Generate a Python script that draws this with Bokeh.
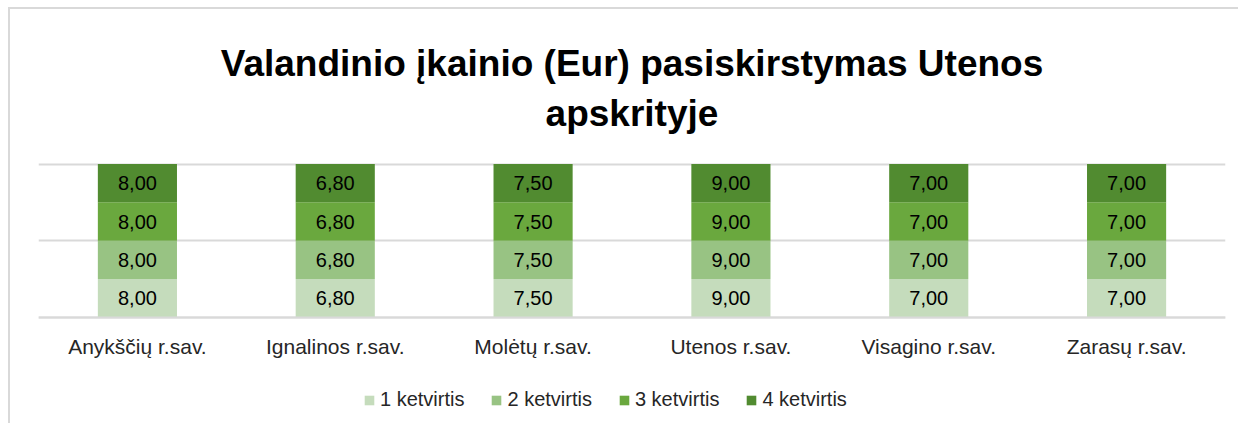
from bokeh.plotting import figure
from bokeh.models import (FactorRange, Range1d, FixedTicker, ColumnDataSource, Legend, LegendItem, Title)
from bokeh.core.properties import value
from bokeh.embed import file_html
from bokeh.resources import INLINE

categories = ["Anykščių r.sav.", "Ignalinos r.sav.", "Molėtų r.sav.", "Utenos r.sav.", "Visagino r.sav.", "Zarasų r.sav."]
series_names = ["1 ketvirtis", "2 ketvirtis", "3 ketvirtis", "4 ketvirtis"]
q1 = [8.00, 6.80, 7.50, 9.00, 7.00, 7.00]
q2 = [8.00, 6.80, 7.50, 9.00, 7.00, 7.00]
q3 = [8.00, 6.80, 7.50, 9.00, 7.00, 7.00]
q4 = [8.00, 6.80, 7.50, 9.00, 7.00, 7.00]
colors = ["#c5dcbc", "#98c383", "#6aa83e", "#518b30"]
title_text = "Valandinio įkainio (Eur) pasiskirstymas Utenos\napskrityje"

FONT = "Liberation Sans"

series = [q1, q2, q3, q4]
totals = [sum(s[i] for s in series) for i in range(len(categories))]
data = {"cat": categories}
keys = []
for k, s in enumerate(series):
    key = f"s{k}"
    keys.append(key)
    data[key] = [v / t for v, t in zip(s, totals)]
src = ColumnDataSource(data)

# the frame extends below the bars so the category labels and legend sit inside it
BAR_PX = 153.0          # pixel height of the 0..1 stacked span
BELOW_PX = 106.0        # room under the baseline for labels and legend
TOP_PAD = 0.01
y_start = -BELOW_PX / BAR_PX
frame_h = int(round((1 + TOP_PAD - y_start) * BAR_PX))

p = figure(x_range=FactorRange(*categories, range_padding=0), y_range=Range1d(y_start, 1 + TOP_PAD),
           frame_width=1187, frame_height=frame_h, output_backend="svg", toolbar_location=None,
           min_border_left=28, min_border_right=13, min_border_top=153, min_border_bottom=0)
p.outline_line_color = None
p.styles = {"border-left": "2px solid #d9d9d9", "border-top": "2px solid #d9d9d9",
            "margin-left": "8px", "margin-top": "7px"}

renderers = p.vbar_stack(keys, x="cat", width=0.4, color=colors, source=src, line_color=None)

# labels
lx, ly, lt = [], [], []
for i, c in enumerate(categories):
    cum = 0.0
    for k, s in enumerate(series):
        frac = s[i] / totals[i]
        lx.append(c)
        ly.append(cum + frac / 2)
        lt.append(f"{s[i]:.2f}".replace(".", ","))
        cum += frac
p.text(x=lx, y=ly, text=lt, text_align="center", text_baseline="middle",
       text_font=value(FONT), text_font_size="20px", text_color="#000000")

p.yaxis.visible = False
p.ygrid.ticker = FixedTicker(ticks=[0, 0.5, 1])
p.ygrid.grid_line_color = "#d9d9d9"
p.ygrid.grid_line_width = 2
p.xgrid.grid_line_color = None
p.xaxis.fixed_location = 0
p.xaxis.axis_line_color = "#d9d9d9"
p.xaxis.axis_line_width = 2
p.xaxis.major_tick_line_color = None
p.xaxis.minor_tick_line_color = None
p.xaxis.major_label_text_font = FONT
p.xaxis.major_label_text_font_size = "21px"
p.xaxis.major_label_text_color = "#262626"
p.xaxis.major_label_standoff = 12

legend = Legend(items=[LegendItem(label=n, renderers=[r]) for n, r in zip(series_names, renderers)],
                orientation="horizontal", location=(325, 12), border_line_color=None,
                background_fill_alpha=0,
                label_text_font=FONT, label_text_font_size="20px", label_text_color="#262626",
                glyph_width=12, glyph_height=12, spacing=26, label_standoff=5, margin=0, padding=0)
p.add_layout(legend)

title = Title(text=title_text, align="center", text_font=FONT, text_font_size="37px",
              text_font_style="bold", text_color="#000000", standoff=57, text_line_height=1.22)
if "text_align" in Title.properties():
    title.text_align = "center"
p.add_layout(title, "above")

open("out.html", "w").write(file_html(p, INLINE))
